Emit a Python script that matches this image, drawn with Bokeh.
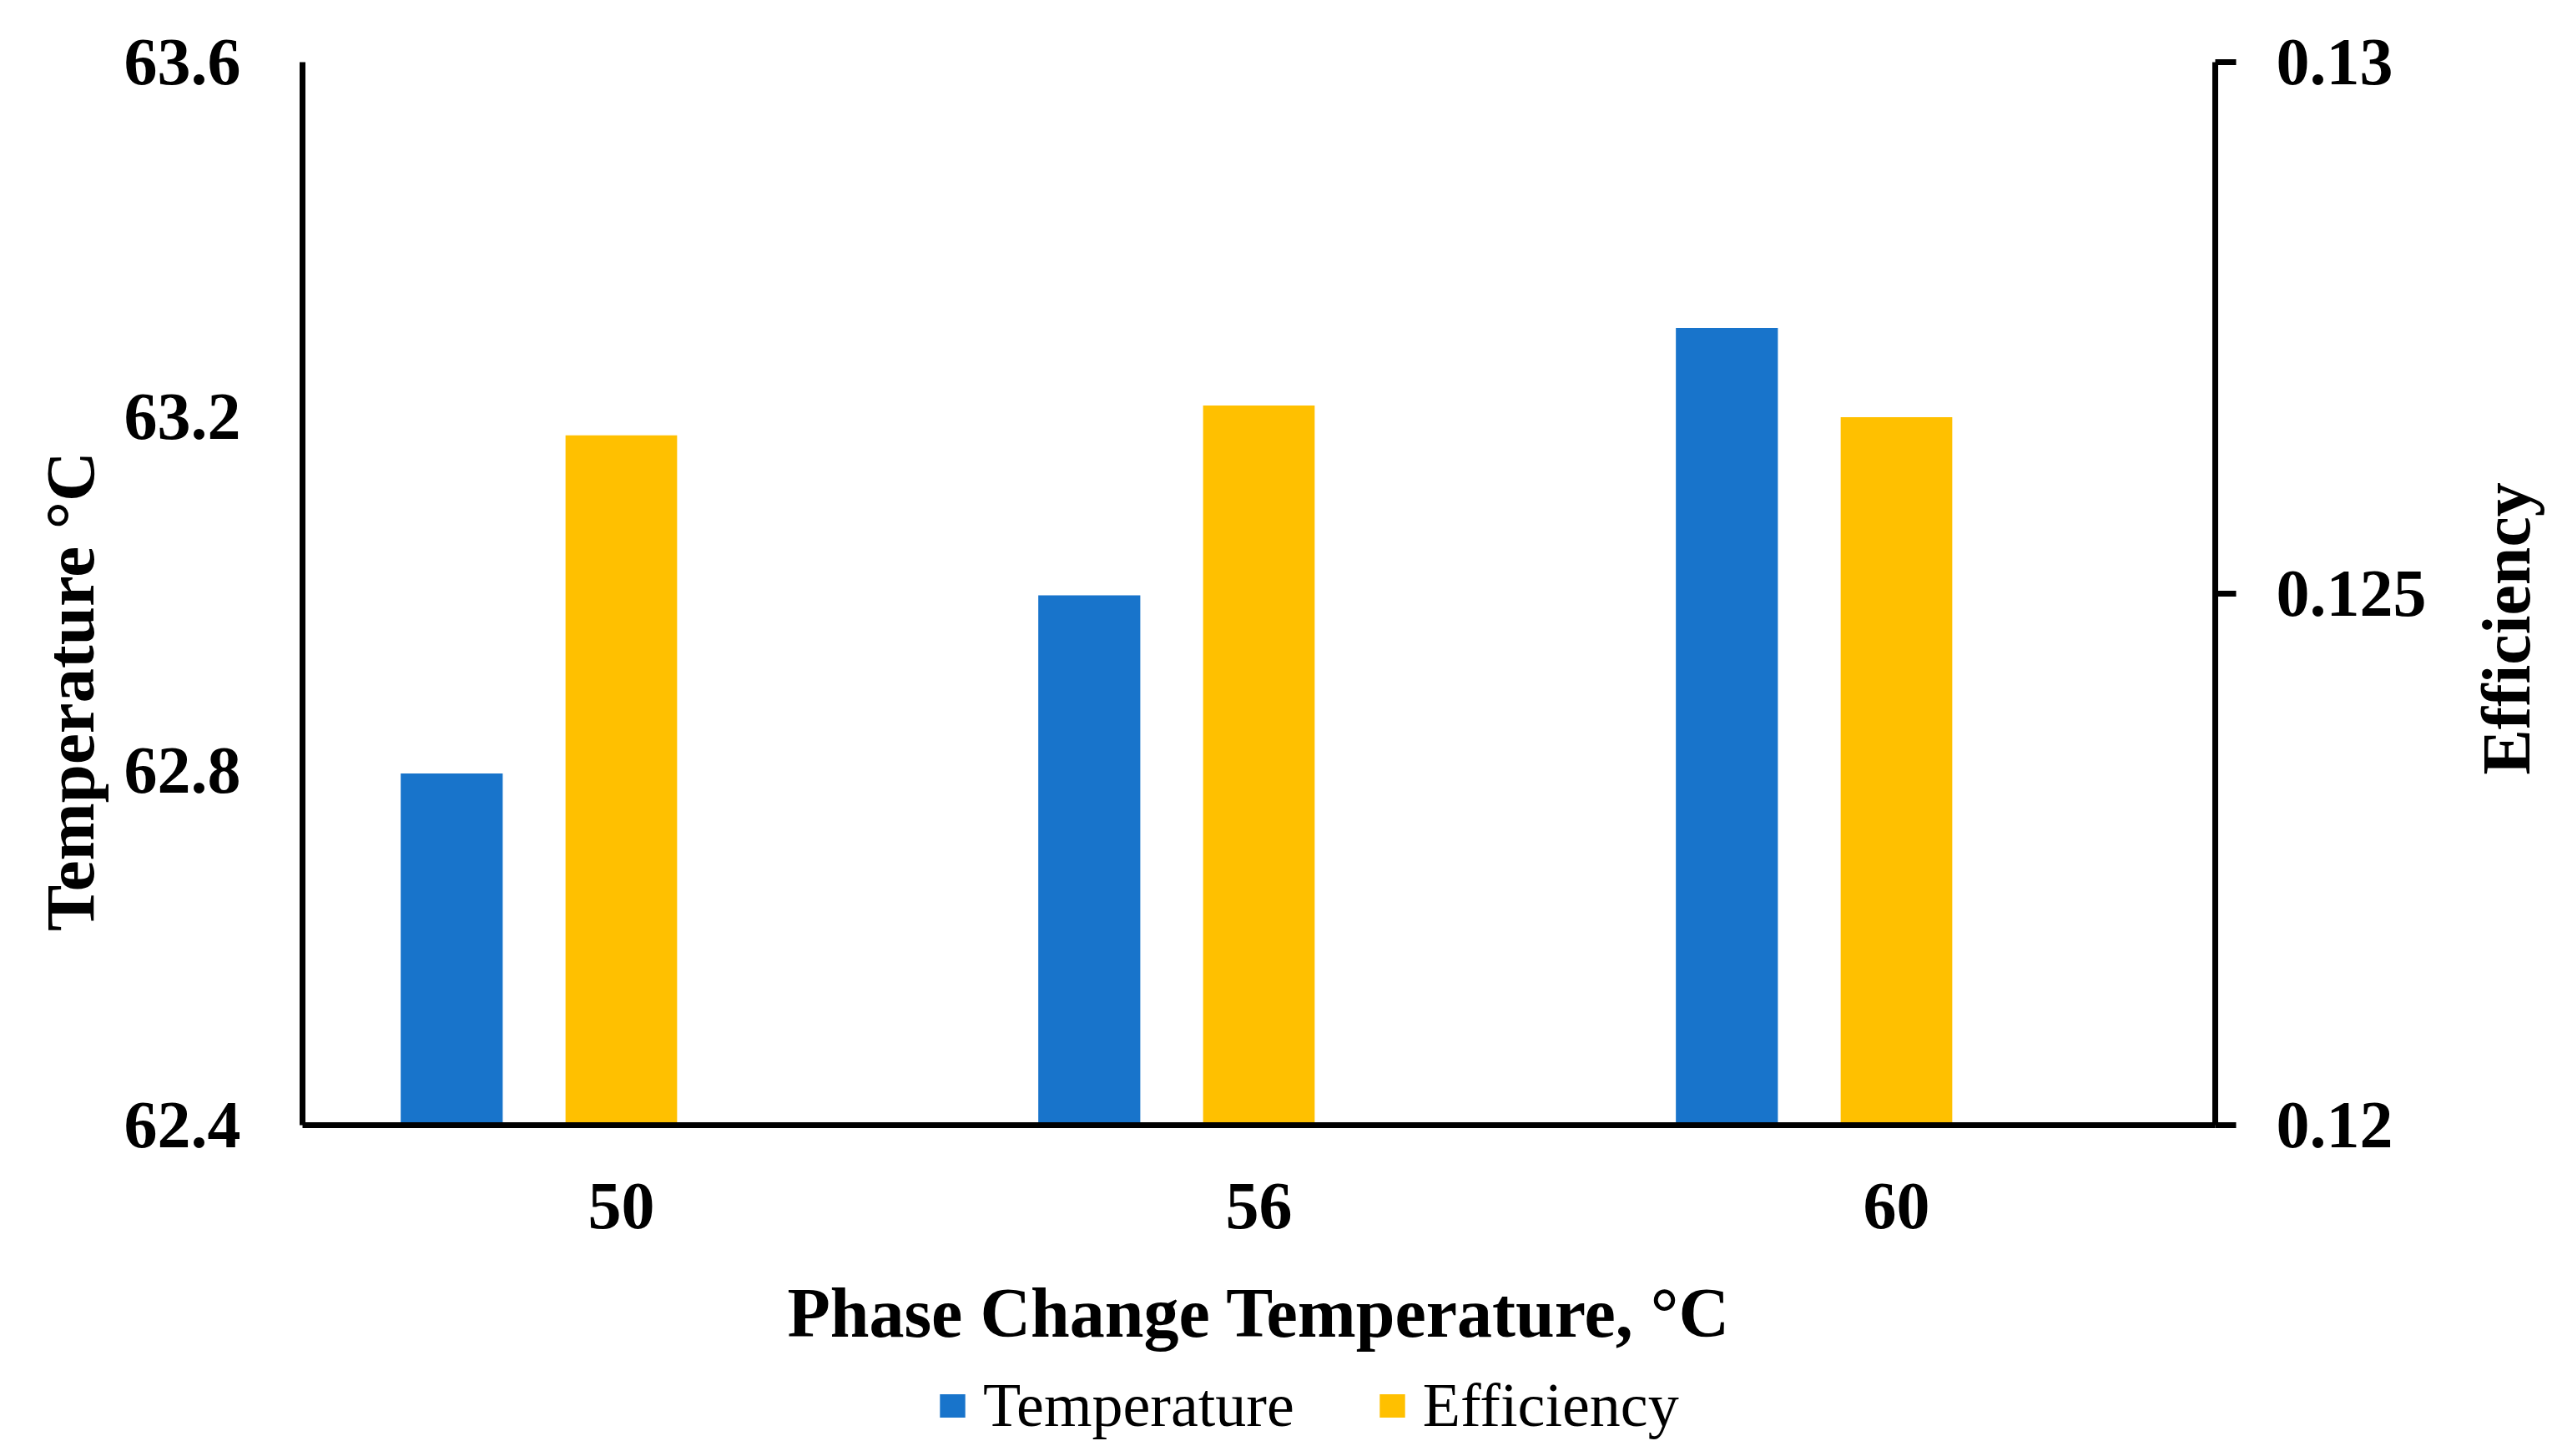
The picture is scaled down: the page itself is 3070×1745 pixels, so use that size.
import math
from bokeh.plotting import figure
from bokeh.models import (Range1d, LinearAxis, FixedTicker, Label,
                          Legend, LegendItem, ColumnDataSource, PrintfTickFormatter)
from bokeh.embed import file_html
from bokeh.resources import INLINE

# ---- data ----
categories = ["50", "56", "60"]
temperature = [62.797, 62.998, 63.30]
efficiency = [0.12649, 0.12677, 0.12666]
temp_ticks = [62.4, 62.8, 63.2, 63.6]
eff_ticks = [0.12, 0.125, 0.13]
eff_tick_labels = ["0.12", "0.125", "0.13"]
temp_min, temp_max = 62.4, 63.6
eff_min, eff_max = 0.12, 0.13

BLUE = "#1874CB"
GOLD = "#FFC000"
FONT = "Liberation Serif"

# ---- layout (canvas px) ----
W, H = 3054, 1729
AX_L, AX_R, AX_T, AX_B = 362, 2654, 74, 1348   # axes box
n = len(categories)
ppx = (AX_R - AX_L) / n                        # px per category
ppt = (AX_B - AX_T) / (temp_max - temp_min)    # px per degree
ppe = (AX_B - AX_T) / (eff_max - eff_min)      # px per efficiency unit

x_range = Range1d(-AX_L / ppx, n + (W - AX_R) / ppx)
y_range = Range1d(temp_min - (H - AX_B) / ppt, temp_max + AX_T / ppt)
eff_range = Range1d(eff_min - (H - AX_B) / ppe, eff_max + AX_T / ppe)

p = figure(width=W, height=H, x_range=x_range, y_range=y_range,
           output_backend="svg", toolbar_location=None,
           min_border_left=0, min_border_right=0, min_border_top=0, min_border_bottom=0)
p.extra_y_ranges = {"eff": eff_range}
p.outline_line_color = None
p.xgrid.grid_line_color = None
p.ygrid.grid_line_color = None
p.background_fill_color = "white"
p.border_fill_color = "white"

cat_pos = [i + 0.5 for i in range(n)]
src = ColumnDataSource(dict(
    xt=[c - 0.266 for c in cat_pos], xe=cat_pos,
    temp=temperature, eff=efficiency))
r1 = p.vbar(x="xt", top="temp", bottom=temp_min, width=0.16, source=src,
            fill_color=BLUE, line_color=None)
r2 = p.vbar(x="xe", top="eff", bottom=eff_min, width=0.175, source=src,
            y_range_name="eff", fill_color=GOLD, line_color=None)

# ---- axes ----
lax = p.yaxis[0]
xax = p.xaxis[0]
raxis = LinearAxis(y_range_name="eff")
p.add_layout(raxis, "right")

lax.fixed_location = 0
lax.bounds = (temp_min, temp_max)
lax.ticker = FixedTicker(ticks=temp_ticks)
lax.formatter = PrintfTickFormatter(format="%.1f")
lax.major_tick_line_color = None
lax.major_tick_out = 0
lax.major_tick_in = 0
lax.major_label_standoff = 74

raxis.fixed_location = n
raxis.bounds = (eff_min, eff_max)
raxis.ticker = FixedTicker(ticks=eff_ticks)
raxis.major_label_overrides = {t: s for t, s in zip(eff_ticks, eff_tick_labels)}
raxis.major_tick_out = 25
raxis.major_tick_in = 0
raxis.major_tick_line_width = 7
raxis.major_tick_line_color = "black"
raxis.major_label_standoff = 48

xax.fixed_location = temp_min
xax.bounds = (0, n)
xax.ticker = FixedTicker(ticks=cat_pos)
xax.major_label_overrides = {c: s for c, s in zip(cat_pos, categories)}
xax.major_tick_line_color = None
xax.major_tick_out = 0
xax.major_tick_in = 0
xax.major_label_standoff = 70

for ax in [lax, raxis, xax]:
    ax.axis_line_width = 7
    ax.axis_line_color = "black"
    ax.minor_tick_line_color = None
    ax.minor_tick_out = 0
    ax.minor_tick_in = 0
    ax.major_label_text_font = FONT
    ax.major_label_text_font_style = "bold"
    ax.major_label_text_font_size = "80px"
    ax.major_label_text_color = "black"

# ---- axis titles ----
def title_label(text, x, y, size, angle=0.0, x_offset=0, y_range_name="default"):
    return Label(x=x, y=y, x_offset=x_offset, text=text, angle=angle,
                 text_align="center", text_baseline="alphabetic",
                 text_font=FONT, text_font_style="bold", text_font_size=size,
                 text_color="black", y_range_name=y_range_name)

p.add_layout(title_label("Phase Change Temperature, °C", n / 2,
                         temp_min - (1573 - AX_B) / ppt, "84px"))
p.add_layout(title_label("Temperature °C", 0, temp_min + (AX_B - 828) / ppt, "83px",
                         angle=math.pi / 2, x_offset=-279))
p.add_layout(title_label("Efficiency", n, eff_min + (AX_B - 753) / ppe, "82px",
                         angle=math.pi / 2, x_offset=349, y_range_name="eff"))

# ---- legend ----
legend = Legend(items=[LegendItem(label="Temperature", renderers=[r1]),
                       LegendItem(label="Efficiency", renderers=[r2])],
                orientation="horizontal", location=(1122, 2),
                label_text_font=FONT, label_text_font_size="74px",
                label_text_color="black",
                glyph_width=38, glyph_height=35, label_standoff=18, spacing=98,
                padding=0, margin=0, border_line_color=None,
                background_fill_alpha=0)
p.add_layout(legend, "center")

open("out.html", "w").write(file_html(p, INLINE))
